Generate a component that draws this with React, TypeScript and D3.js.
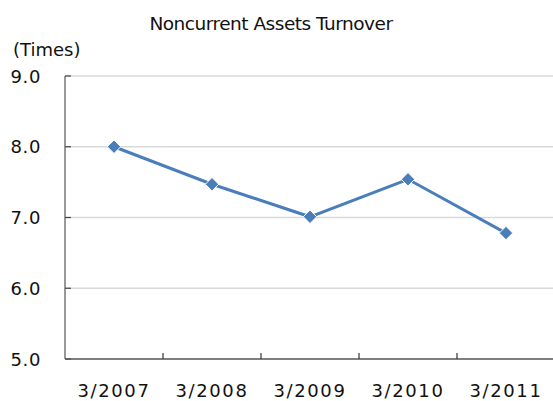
import React, { useRef, useEffect } from "react";
import * as d3 from "d3";

const categories = ["3/2007", "3/2008", "3/2009", "3/2010", "3/2011"];
const turnover = [8.0, 7.47, 7.01, 7.54, 6.78];
const yTicks = [5, 6, 7, 8, 9];

export default function App() {
  const svgRef = useRef<SVGSVGElement>(null);

  useEffect(() => {
    const width = 553;
    const left = 65;
    const right = 555;
    const top = 76;
    const bottom = 359;

    const svg = d3.select(svgRef.current);
    svg.selectAll("*").remove();

    const x = d3.scaleBand<string>().domain(categories).range([left, right]);
    const y = d3.scaleLinear().domain([5, 9]).range([bottom, top]);

    // title + unit
    svg.append("text")
      .attr("x", 271)
      .attr("y", 30)
      .attr("text-anchor", "middle")
      .attr("font-family", "DejaVu Sans")
      .attr("font-size", 18.5)
      .attr("letter-spacing", -0.5)
      .attr("fill", "#111")
      .text("Noncurrent Assets Turnover");

    svg.append("text")
      .attr("x", 13)
      .attr("y", 56)
      .attr("font-family", "DejaVu Sans")
      .attr("font-size", 18)
      .attr("fill", "#111")
      .text("(Times)");

    // gridlines
    svg.append("g")
      .selectAll("line")
      .data(yTicks.filter(d => d > 5))
      .enter()
      .append("line")
      .attr("x1", left)
      .attr("x2", width)
      .attr("y1", d => y(d))
      .attr("y2", d => y(d))
      .attr("stroke", "#d9d9d9")
      .attr("stroke-width", 1.5);

    // y ticks (short dark part)
    svg.append("g")
      .selectAll("line")
      .data(yTicks)
      .enter()
      .append("line")
      .attr("x1", left)
      .attr("x2", left + 6)
      .attr("y1", d => y(d))
      .attr("y2", d => y(d))
      .attr("stroke", "#444")
      .attr("stroke-width", 1.2);

    svg.append("g")
      .selectAll("text")
      .data(yTicks)
      .enter()
      .append("text")
      .attr("x", 41)
      .attr("y", d => y(d) + 6.5)
      .attr("text-anchor", "end")
      .attr("font-family", "DejaVu Sans")
      .attr("font-size", 18)
      .attr("letter-spacing", 0.6)
      .attr("fill", "#111")
      .text(d => d.toFixed(1));

    // axes
    svg.append("line")
      .attr("x1", left).attr("x2", left)
      .attr("y1", top).attr("y2", bottom)
      .attr("stroke", "#555").attr("stroke-width", 1.2);
    svg.append("line")
      .attr("x1", left).attr("x2", width)
      .attr("y1", bottom).attr("y2", bottom)
      .attr("stroke", "#555").attr("stroke-width", 1.5);

    // x ticks at band edges
    svg.append("g")
      .selectAll("line")
      .data(categories.slice(1))
      .enter()
      .append("line")
      .attr("x1", d => x(d)!)
      .attr("x2", d => x(d)!)
      .attr("y1", bottom)
      .attr("y2", bottom - 6)
      .attr("stroke", "#333")
      .attr("stroke-width", 1.2);

    svg.append("g")
      .selectAll("text")
      .data(categories)
      .enter()
      .append("text")
      .attr("x", d => x(d)! + x.bandwidth() / 2)
      .attr("y", 397)
      .attr("text-anchor", "middle")
      .attr("font-family", "DejaVu Sans")
      .attr("font-size", 18)
      .attr("letter-spacing", 1.6)
      .attr("fill", "#111")
      .text(d => d);

    // series
    const line = d3.line<number>()
      .x((d, i) => x(categories[i])! + x.bandwidth() / 2)
      .y(d => y(d));

    svg.append("path")
      .datum(turnover)
      .attr("d", line)
      .attr("fill", "none")
      .attr("stroke", "#4a7ebb")
      .attr("stroke-width", 3);

    const diamond = d3.symbol().type(d3.symbolDiamond2).size(115);
    svg.append("g")
      .selectAll("path")
      .data(turnover)
      .enter()
      .append("path")
      .attr("d", diamond)
      .attr("transform", (d, i) => `translate(${x(categories[i])! + x.bandwidth() / 2},${y(d)})`)
      .attr("fill", "#4a7ebb")
      .attr("stroke", "#fff")
      .attr("stroke-width", 1);
  }, []);

  return (
    <svg ref={svgRef} width={553} height={401} style={{ position: "absolute", left: 0, top: 0, background: "#fff" }} />
  );
}
